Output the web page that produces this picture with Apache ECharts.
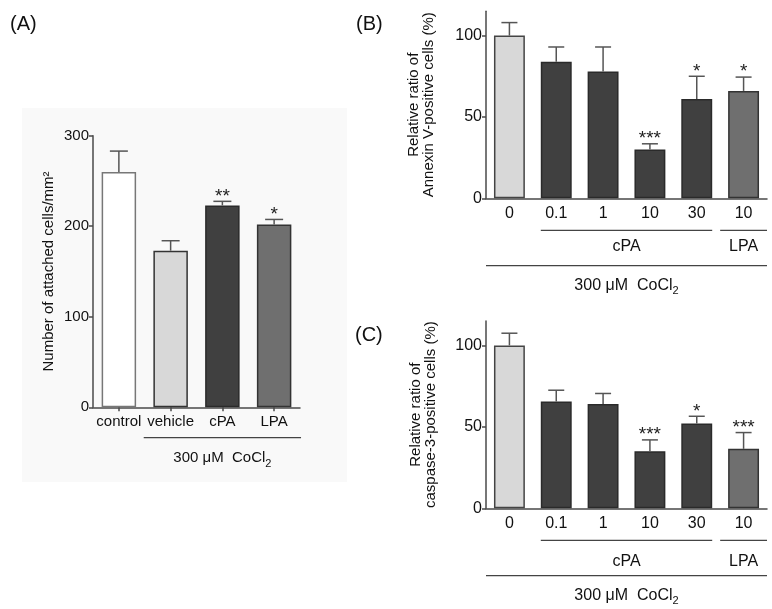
<!DOCTYPE html>
<html><head><meta charset="utf-8">
<script src="https://cdn.jsdelivr.net/npm/echarts@6/dist/echarts.min.js"></script>
<style>html,body{margin:0;padding:0;background:#fff}#c{width:772px;height:609px}</style>
</head><body><div id="c"></div>
<script>
// ---- data ----
const catsA = ['control', 'vehicle', 'cPA', 'LPA'];
const meanA = [260, 173, 223, 202];
const errA = [283, 184, 227.5, 207.5];
const starsA = ['', '', '**', '*'];

const catsBC = ['0', '0.1', '1', '10', '30', '10'];
const meanB = [100, 84, 78, 30, 61, 66];
const errB = [108, 93, 93, 33.5, 75, 74.5];
const starsB = ['', '', '', '***', '*', '*'];

const meanC = [100, 65.5, 64, 35, 52, 36.5];
const errC = [107.5, 72.5, 70.5, 42, 56.5, 46.5];
const starsC = ['', '', '', '***', '*', '***'];

// group labels: main text + optional subscript
const groupNamesA = ['300 \u03bcM  CoCl'];
const groupSubsA = ['2'];
const groupFromA = [1];
const groupToA = [3];
const groupLevelA = [1];

const groupNamesBC = ['cPA', 'LPA', '300 \u03bcM  CoCl'];
const groupSubsBC = ['', '', '2'];
const groupFromBC = [1, 5, 0];
const groupToBC = [4, 5, 5];
const groupLevelBC = [1, 1, 2];

// ---- style ----
const FONT = '"Liberation Sans", Arial, sans-serif';
const AX = '#4a4a4a';
const colA = ['#ffffff', '#d8d8d8', '#404040', '#6f6f6f'];
const bordA = ['#777777', '#333333', '#2a2a2a', '#333333'];
const colBC = ['#d8d8d8', '#404040', '#404040', '#404040', '#404040', '#6f6f6f'];
const bordBC = ['#444444', '#2a2a2a', '#2a2a2a', '#2a2a2a', '#2a2a2a', '#333333'];

const chart = echarts.init(document.getElementById('c'));

function errRender(stars, capW) {
  return function (params, api) {
    const i = api.value(0);
    const p0 = api.coord([i, api.value(1)]);
    const p1 = api.coord([i, api.value(2)]);
    const st = { stroke: '#555', lineWidth: 1.5 };
    const children = [
      { type: 'line', shape: { x1: p0[0], y1: p0[1], x2: p1[0], y2: p1[1] }, style: st },
      { type: 'line', shape: { x1: p1[0] - capW / 2, y1: p1[1], x2: p1[0] + capW / 2, y2: p1[1] }, style: st }
    ];
    const s = stars[params.dataIndex];
    if (s) children.push({ type: 'text', style: { text: s, x: p1[0], y: p1[1] - 5, align: 'center', verticalAlign: 'middle', fontSize: 19, fontFamily: FONT, fill: '#222' } });
    return { type: 'group', children };
  };
}

function groupRender(names, subs, from, to, level, ext, lineDy, textDy, fs) {
  return function (params, api) {
    const k = params.dataIndex;
    const base = api.coord([0, 0])[1];
    const band = api.size([1, 0])[0];
    const e = ext[k];
    const xa = api.coord([from[k], 0])[0] - band * e;
    const xb = api.coord([to[k], 0])[0] + band * e;
    const lv = level[k];
    const ly = base + lineDy[lv];
    let txt = '{n|' + names[k] + '}';
    if (subs[k]) txt += '{s|' + subs[k] + '}';
    return {
      type: 'group', children: [
        { type: 'line', shape: { x1: xa, y1: ly, x2: xb, y2: ly }, style: { stroke: '#444', lineWidth: 1.2 } },
        { type: 'text', style: {
            text: txt, x: (xa + xb) / 2, y: base + textDy[lv],
            align: 'center', verticalAlign: 'middle', fontFamily: FONT, fill: '#111',
            rich: { n: { fontSize: fs, lineHeight: fs, verticalAlign: 'top', fontFamily: FONT, fill: '#111' },
                    s: { fontSize: 11, lineHeight: 11, verticalAlign: 'top', padding: [8, 0, 0, 0], fontFamily: FONT, fill: '#111' } }
        } }
      ]
    };
  };
}

function xAxisCfg(gi, cats, fs, ticks) {
  return {
    type: 'category', gridIndex: gi, data: cats,
    axisLine: { lineStyle: { color: AX, width: 1.5 } },
    axisTick: { show: ticks, alignWithLabel: true, length: 4, lineStyle: { color: AX, width: 1.5 } },
    axisLabel: { color: '#111', fontSize: fs, fontFamily: FONT, margin: 7, interval: 0 },
    splitLine: { show: false }
  };
}
function yAxisCfg(gi, max, interval, vals, name, gap, fs) {
  return {
    type: 'value', gridIndex: gi, min: 0, max: max, interval: interval,
    name: name, nameLocation: 'middle', nameGap: gap, nameRotate: 90,
    nameTextStyle: { fontSize: 15, fontFamily: FONT, color: '#111', lineHeight: 15 },
    axisLine: { show: true, lineStyle: { color: AX, width: 1.5 } },
    axisTick: { show: true, length: 4, customValues: vals, lineStyle: { color: AX, width: 1.5 } },
    axisLabel: { color: '#111', fontSize: fs, fontFamily: FONT, margin: 4, customValues: vals },
    splitLine: { show: false }
  };
}

const option = {
  animation: false,
  backgroundColor: '#ffffff',
  title: [
    { text: '(A)', left: 5, top: 9, textStyle: { fontSize: 20, fontWeight: 'normal', fontFamily: FONT, color: '#111' } },
    { text: '(B)', left: 351, top: 9, textStyle: { fontSize: 20, fontWeight: 'normal', fontFamily: FONT, color: '#111' } },
    { text: '(C)', left: 350, top: 320, textStyle: { fontSize: 20, fontWeight: 'normal', fontFamily: FONT, color: '#111' } }
  ],
  graphic: [
    { type: 'rect', z: -10, shape: { x: 22, y: 108, width: 325, height: 374 }, style: { fill: '#f9f9f9' } }
  ],
  grid: [
    { left: 93, top: 135.7, width: 207, height: 271.6 },
    { left: 486, top: 11.2, width: 281, height: 187.1 },
    { left: 486, top: 321, width: 281, height: 187.3 }
  ],
  xAxis: [
    xAxisCfg(0, catsA, 15, true),
    xAxisCfg(1, catsBC, 16, false),
    xAxisCfg(2, catsBC, 16, false)
  ],
  yAxis: [
    yAxisCfg(0, 300, 100, [0, 100, 200, 300], 'Number of attached cells/mm\u00b2', 37, 15),
    yAxisCfg(1, 115, 50, [0, 50, 100], 'Relative ratio of\nAnnexin V-positive cells (%)', 50, 16),
    yAxisCfg(2, 115, 50, [0, 50, 100], 'Relative ratio of\ncaspase-3-positive cells (%)', 48, 16)
  ],
  series: [
    { type: 'bar', xAxisIndex: 0, yAxisIndex: 0, barWidth: '66.6%',
      data: meanA.map((v, i) => ({ value: v, itemStyle: { color: colA[i], borderColor: bordA[i], borderWidth: 1.5 } })) },
    { type: 'custom', xAxisIndex: 0, yAxisIndex: 0, renderItem: errRender(starsA, 18), z: 5,
      data: meanA.map((v, i) => [i, v, errA[i]]) },
    { type: 'custom', xAxisIndex: 0, yAxisIndex: 0, silent: true, clip: false,
      renderItem: groupRender(groupNamesA, groupSubsA, groupFromA, groupToA, groupLevelA, [0.52], { 1: 30.4 }, { 1: 51 }, 15),
      data: groupNamesA.map((n, k) => [groupFromA[k], 0]) },

    { type: 'bar', xAxisIndex: 1, yAxisIndex: 1, barWidth: '66%',
      data: meanB.map((v, i) => ({ value: v, itemStyle: { color: colBC[i], borderColor: bordBC[i], borderWidth: 1.5 } })) },
    { type: 'custom', xAxisIndex: 1, yAxisIndex: 1, renderItem: errRender(starsB, 16), z: 5,
      data: meanB.map((v, i) => [i, v, errB[i]]) },
    { type: 'custom', xAxisIndex: 1, yAxisIndex: 1, silent: true, clip: false,
      renderItem: groupRender(groupNamesBC, groupSubsBC, groupFromBC, groupToBC, groupLevelBC, [0.33, 0.5, 0.5], { 1: 32, 2: 67.4 }, { 1: 48.4, 2: 87.4 }, 16),
      data: groupNamesBC.map((n, k) => [groupFromBC[k], 0]) },

    { type: 'bar', xAxisIndex: 2, yAxisIndex: 2, barWidth: '66%',
      data: meanC.map((v, i) => ({ value: v, itemStyle: { color: colBC[i], borderColor: bordBC[i], borderWidth: 1.5 } })) },
    { type: 'custom', xAxisIndex: 2, yAxisIndex: 2, renderItem: errRender(starsC, 16), z: 5,
      data: meanC.map((v, i) => [i, v, errC[i]]) },
    { type: 'custom', xAxisIndex: 2, yAxisIndex: 2, silent: true, clip: false,
      renderItem: groupRender(groupNamesBC, groupSubsBC, groupFromBC, groupToBC, groupLevelBC, [0.33, 0.5, 0.5], { 1: 32, 2: 67.4 }, { 1: 53.4, 2: 87.4 }, 16),
      data: groupNamesBC.map((n, k) => [groupFromBC[k], 0]) }
  ]
};
chart.setOption(option);
</script>
</body></html>
